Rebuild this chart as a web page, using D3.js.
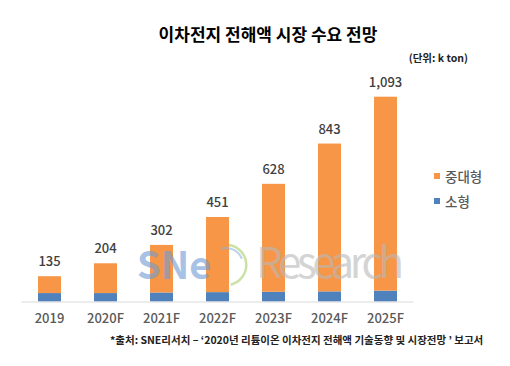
<!DOCTYPE html>
<html>
<head>
<meta charset="utf-8">
<script src="https://cdn.jsdelivr.net/npm/d3@7"></script>
<style>
  body { margin: 0; background: #fff; }
  text { font-family: "Noto Sans CJK KR", "Noto Sans", sans-serif; }
</style>
</head>
<body>
<div id="chart"></div>
<script>
var years = ['2019', '2020F', '2021F', '2022F', '2023F', '2024F', '2025F'];
var totals = [135, 204, 302, 451, 628, 843, 1093];
var small = [45, 45, 48, 50, 52, 54, 58];
var large = totals.map(function(t, i) { return t - small[i]; });
var seriesNames = ['중대형', '소형'];
var seriesColors = ['#F79646', '#4F81BD'];

var width = 510, height = 366;
var svg = d3.select('#chart').append('svg')
  .attr('width', width)
  .attr('height', height);

var x = d3.scaleBand()
  .domain(years)
  .range([21.5, 413.5])
  .paddingInner(0.59)
  .paddingOuter(0.295);

var y = d3.scaleLinear()
  .domain([0, 1093])
  .range([301.5, 96.7]);

// title
svg.append('text')
  .attr('x', 268).attr('y', 41)
  .attr('text-anchor', 'middle')
  .attr('font-size', 17).attr('font-weight', 'bold')
  .attr('fill', '#000')
  .text('이차전지 전해액 시장 수요 전망');

svg.append('text')
  .attr('x', 468).attr('y', 62)
  .attr('text-anchor', 'end')
  .attr('font-size', 10.5).attr('font-weight', 'bold')
  .attr('fill', '#222')
  .text('(단위: k ton)');

// bars
var bars = svg.append('g');
bars.selectAll('.small')
  .data(years)
  .enter().append('rect')
  .attr('x', function(d) { return x(d); })
  .attr('y', function(d, i) { return y(small[i]); })
  .attr('width', x.bandwidth())
  .attr('height', function(d, i) { return y(0) - y(small[i]); })
  .attr('fill', seriesColors[1]);

bars.selectAll('.large')
  .data(years)
  .enter().append('rect')
  .attr('x', function(d) { return x(d); })
  .attr('y', function(d, i) { return y(totals[i]); })
  .attr('width', x.bandwidth())
  .attr('height', function(d, i) { return y(small[i]) - y(totals[i]); })
  .attr('fill', seriesColors[0]);

// watermark
var wm = svg.append('g').attr('opacity', 0.6);
wm.append('path')
  .attr('d', d3.arc()({ innerRadius: 19, outerRadius: 21.5, startAngle: 0.15, endAngle: 2.9 }))
  .attr('transform', 'translate(226,265)')
  .attr('fill', '#a8cf6a');
wm.append('path')
  .attr('d', d3.arc()({ innerRadius: 16, outerRadius: 18, startAngle: -0.3, endAngle: 1.2 }))
  .attr('transform', 'translate(226,265)')
  .attr('fill', '#8fb3df');
wm.append('text')
  .attr('x', 137).attr('y', 279)
  .attr('font-size', 38).attr('font-weight', 'bold')
  .attr('font-family', '"DejaVu Sans", sans-serif')
  .attr('fill', '#6f9bd4')
  .text('SNe');
wm.append('text')
  .attr('x', 256).attr('y', 278)
  .attr('font-size', 42)
  .attr('font-family', '"Open Sans", sans-serif')
  .attr('textLength', 148)
  .attr('fill', '#b8b8b8')
  .text('Research');

// axis line
svg.append('line')
  .attr('x1', x.range()[0]).attr('x2', x.range()[1])
  .attr('y1', y(0) + 0.5).attr('y2', y(0) + 0.5)
  .attr('stroke', '#d9d9d9').attr('stroke-width', 1);

// value labels
svg.append('g').selectAll('text')
  .data(years)
  .enter().append('text')
  .attr('x', function(d) { return x(d) + x.bandwidth() / 2; })
  .attr('y', function(d, i) { return y(totals[i]) - 10; })
  .attr('text-anchor', 'middle')
  .attr('font-size', 13).attr('font-weight', 500)
  .attr('fill', '#404040')
  .text(function(d, i) { return d3.format(',')(totals[i]); });

// x labels
var xAxis = svg.append('g')
  .attr('transform', 'translate(0,' + y(0) + ')')
  .call(d3.axisBottom(x).tickSize(0).tickPadding(12));
xAxis.select('.domain').remove();
xAxis.selectAll('text')
  .attr('font-size', 13)
  .attr('font-weight', 500)
  .attr('font-family', '"Noto Sans CJK KR", "Noto Sans", sans-serif')
  .attr('fill', '#595959');

// legend
var legend = svg.append('g');
seriesNames.forEach(function(name, i) {
  legend.append('rect')
    .attr('x', 434).attr('y', 173 + i * 25)
    .attr('width', 6).attr('height', 6)
    .attr('fill', seriesColors[i]);
  legend.append('text')
    .attr('x', 445).attr('y', 181.5 + i * 25)
    .attr('font-size', 13.5).attr('font-weight', 500)
    .attr('fill', '#595959')
    .text(name);
});

// source
svg.append('text')
  .attr('x', 110).attr('y', 344)
  .attr('font-size', 10.5).attr('font-weight', 'bold')
  .attr('fill', '#222')
  .text('*출처: SNE리서치 – \u20182020년 리튬이온 이차전지 전해액 기술동향 및 시장전망 \u2019  보고서');
</script>
</body>
</html>
